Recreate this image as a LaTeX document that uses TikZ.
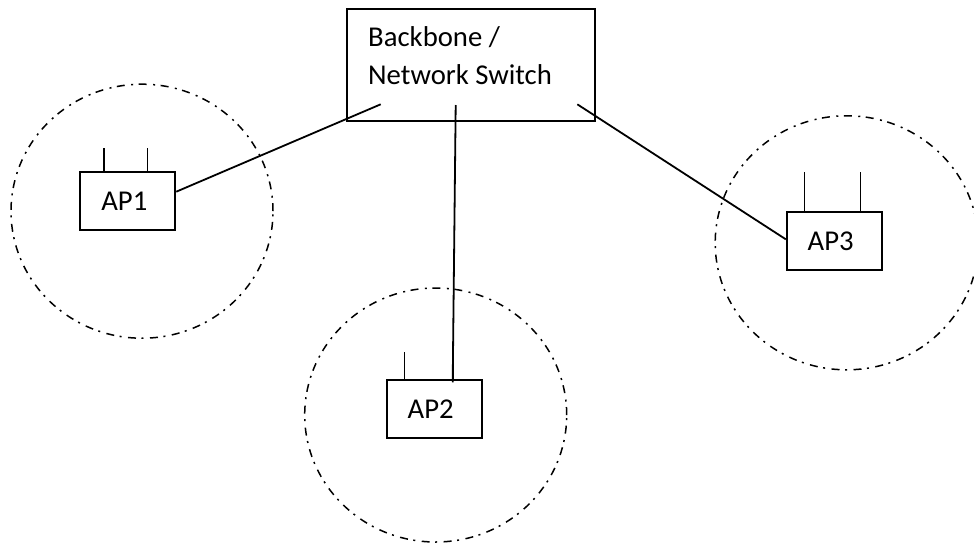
\documentclass[tikz,border=0pt]{standalone}
\usepackage{fontspec}
\setmainfont{Carlito}
\begin{document}
\begin{tikzpicture}[x=1pt,y=-1pt,
  tfont/.style={font=\fontsize{28.7}{34}\selectfont},
  box/.style={draw, line width=1.8pt, inner sep=0pt},
  apbox/.style={box, minimum width=95pt, minimum height=58pt},
  aptext/.style={tfont, inner sep=0pt, xshift=-3.5pt},
  zone/.style={draw, line width=1.5pt, dash pattern=on 8pt off 5.5pt on 2pt off 6.5pt},
  lbl/.style={tfont, inner sep=0pt, anchor=base west},
  wire/.style={draw, line width=1.8pt}]
\useasboundingbox (0,0) rectangle (974,544);

% coverage zones
\draw[zone] (142,211.2) ellipse [x radius=131pt, y radius=127pt];
\draw[zone] (435.7,415) ellipse [x radius=131pt, y radius=127pt];
\draw[zone] (846.7,242.8) ellipse [x radius=131.5pt, y radius=127pt];

% switch
\node[box, minimum width=248.3pt, minimum height=112.3pt] (sw) at (470.85,65.15) {};
\node[lbl] (b1) at (368,46.7) {Backbone /};
\node[lbl] (b2) at (368,84.3) {Network Switch};

% access points
\node[apbox, label={[aptext]center:AP1}] (ap1) at (127.85,201.15) {};
\node[apbox, label={[aptext]center:AP2}] (ap2) at (434.2,409.15) {};
\node[apbox, label={[aptext]center:AP3}] (ap3) at (834.2,241.15) {};

% antennas
\draw[wire] ([xshift=24.6pt]ap1.north west) -- ++(0,-23);
\draw[wire] ([xshift=68pt]ap1.north west) -- ++(0,-23);
\draw[wire] ([xshift=18.6pt]ap2.north west) -- ++(0,-27);
\draw[wire] ([xshift=67.3pt]ap2.north west) -- ++(0,-27);
\draw[wire] ([xshift=18.6pt]ap3.north west) -- ++(0,-39.5);
\draw[wire] ([xshift=74.6pt]ap3.north west) -- ++(0,-39.5);

% connectors
\coordinate (s1) at (380.7,104.3);
\coordinate (s2) at (455.7,105);
\coordinate (s3) at (577.3,104.3);
\draw[wire] (s1) -- ([yshift=9.45pt]ap1.east);
\draw[wire] (s2) -- ([xshift=18.5pt,yshift=-3pt]ap2.north);
\draw[wire] (s3) -- ([yshift=1.85pt]ap3.west);
\end{tikzpicture}
\end{document}
